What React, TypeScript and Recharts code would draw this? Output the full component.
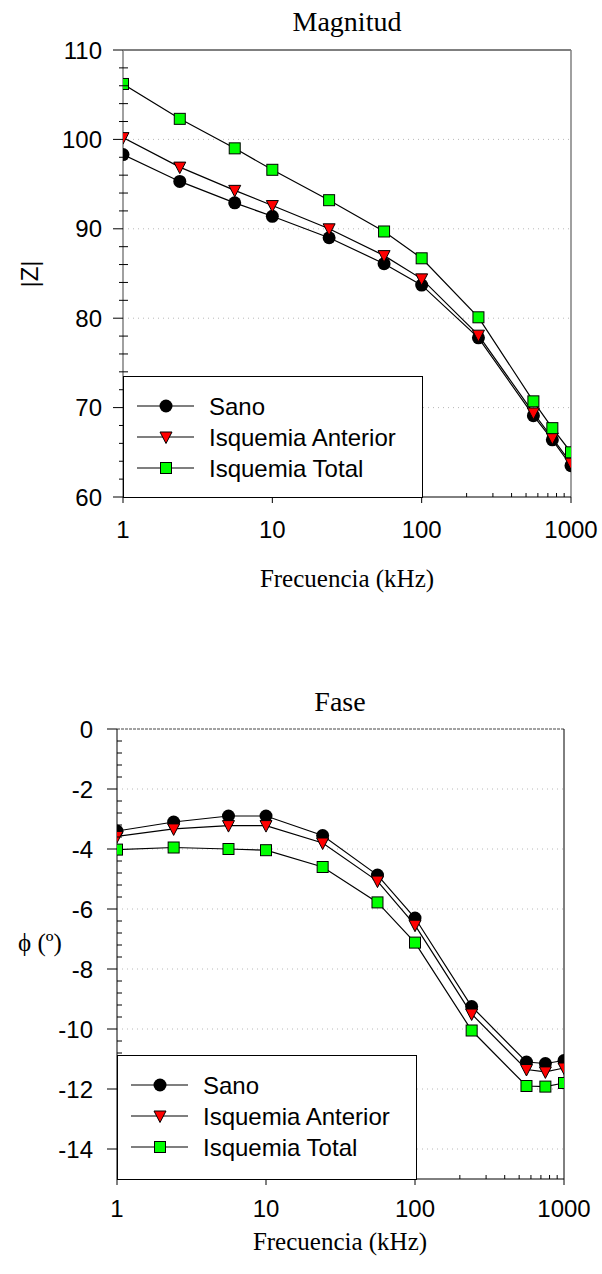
import { LineChart, Line, XAxis, YAxis, ReferenceLine } from "recharts";

// frequencies (kHz), shared by both panels
const freqs = [1, 2.4, 5.6, 10, 24, 56, 100, 240, 560, 750, 1000];

// |Z| panel
const zSano = [98.3, 95.3, 92.9, 91.4, 89.0, 86.1, 83.7, 77.8, 69.1, 66.4, 63.5];
const zAnterior = [100.2, 96.9, 94.3, 92.6, 90.0, 87.0, 84.4, 78.1, 69.4, 66.6, 63.8];
const zTotal = [106.2, 102.3, 99.0, 96.6, 93.2, 89.7, 86.7, 80.1, 70.7, 67.7, 65.0];

// phase panel
const pSano = [-3.4, -3.1, -2.9, -2.9, -3.55, -4.87, -6.3, -9.25, -11.1, -11.15, -11.05];
const pAnterior = [-3.58, -3.33, -3.22, -3.22, -3.8, -5.07, -6.54, -9.5, -11.35, -11.43, -11.3];
const pTotal = [-4.02, -3.95, -4.0, -4.04, -4.6, -5.78, -7.12, -10.05, -11.9, -11.92, -11.8];

const seriesNames = ["Sano", "Isquemia Anterior", "Isquemia Total"];

const xMajor = [1, 10, 100, 1000];
const xMinor = [2, 3, 4, 5, 6, 7, 8, 9, 20, 30, 40, 50, 60, 70, 80, 90, 200, 300, 400, 500, 600, 700, 800, 900];

const zMajor = [60, 70, 80, 90, 100, 110];
const zMinor = [62, 64, 66, 68, 72, 74, 76, 78, 82, 84, 86, 88, 92, 94, 96, 98, 102, 104, 106, 108];
const zGrid = [70, 80, 90, 100];

const pMajor = [0, -2, -4, -6, -8, -10, -12, -14];
const pMinor = [
  -0.4, -0.8, -1.2, -1.6, -2.4, -2.8, -3.2, -3.6, -4.4, -4.8, -5.2, -5.6, -6.4, -6.8, -7.2, -7.6,
  -8.4, -8.8, -9.2, -9.6, -10.4, -10.8, -11.2, -11.6, -12.4, -12.8, -13.2, -13.6, -14.4, -14.8,
];
const pGrid = [-2, -4, -6, -8, -10, -12, -14];

const zData = freqs.map((f, i) => ({ f, sano: zSano[i], anterior: zAnterior[i], total: zTotal[i] }));
const pData = freqs.map((f, i) => ({ f, sano: pSano[i], anterior: pAnterior[i], total: pTotal[i] }));

const SANS = "'Liberation Sans', Arial, sans-serif";
const SERIF = "'Liberation Serif', 'Times New Roman', serif";

function marker(kind: number, cx: number, cy: number, key?: string) {
  if (kind === 0) return <circle key={key} cx={cx} cy={cy} r={6.5} fill="#000" />;
  if (kind === 1)
    return (
      <polygon
        key={key}
        points={`${cx - 6},${cy - 5} ${cx + 6},${cy - 5} ${cx},${cy + 6.5}`}
        fill="#ff0000"
        stroke="#000"
        strokeWidth={1}
      />
    );
  return <rect key={key} x={cx - 5.5} y={cy - 5.5} width={11} height={11} fill="#00ff00" stroke="#000" strokeWidth={1} />;
}

const dotFor = (kind: number) => (p: any) => marker(kind, p.cx, p.cy, `m${kind}-${p.index}`);

function XTick(props: any) {
  const { x, y, payload, labelDy } = props;
  const v = payload.value;
  const major = xMajor.includes(v);
  return (
    <g>
      {major ? (
        <line x1={x} x2={x} y1={y} y2={y + 6} stroke="#000" />
      ) : (
        <line x1={x} x2={x} y1={y} y2={y - 4} stroke="#000" />
      )}
      {major && (
        <text x={x} y={y + labelDy} textAnchor="middle" fontFamily={SANS} fontSize={24} fill="#000">
          {v}
        </text>
      )}
    </g>
  );
}

function YTick(props: any) {
  const { x, y, payload, majors, gap, minorOut } = props;
  const v = payload.value;
  const major = majors.includes(v);
  return (
    <g>
      {major ? (
        <line x1={x - 10} x2={x} y1={y} y2={y} stroke="#000" />
      ) : (
        <line x1={x - minorOut} x2={x + 5} y1={y} y2={y} stroke="#000" />
      )}
      {major && (
        <text x={x - gap} y={y} dy="0.36em" textAnchor="end" fontFamily={SANS} fontSize={24} fill="#000">
          {v}
        </text>
      )}
    </g>
  );
}

function LegendBox({ left, top, width, height }: { left: number; top: number; width: number; height: number }) {
  return (
    <div
      style={{
        position: "absolute",
        left,
        top,
        width,
        height,
        background: "#fff",
        border: "1px solid #000",
        boxSizing: "border-box",
      }}
    >
      <svg width={width - 2} height={height - 2} style={{ display: "block" }}>
        {seriesNames.map((name, i) => {
          const y = 29 + i * 31;
          return (
            <g key={name}>
              <line x1={13} x2={70} y1={y} y2={y} stroke="#000" strokeWidth={1.2} />
              {marker(i, 42, y)}
              <text x={85} y={y} dy="0.36em" fontFamily={SANS} fontSize={24} fill="#000">
                {name}
              </text>
            </g>
          );
        })}
      </svg>
    </div>
  );
}

function seriesLines() {
  return ["sano", "anterior", "total"].map((k, i) => (
    <Line
      key={k}
      dataKey={k}
      type="linear"
      stroke="#000"
      strokeWidth={1.2}
      dot={dotFor(i)}
      activeDot={false}
      isAnimationActive={false}
    />
  ));
}

export default function App() {
  return (
    <div style={{ position: "absolute", left: 0, top: 0, width: 602, height: 1274, background: "#fff" }}>
      {/* Magnitud */}
      <div style={{ position: "absolute", left: 0, top: 0 }}>
        <LineChart width={602} height={620} data={zData} margin={{ top: 50, right: 31, left: 0, bottom: 0 }}>
          <XAxis
            dataKey="f"
            type="number"
            scale="log"
            domain={[1, 1000]}
            allowDataOverflow
            ticks={[...xMajor, ...xMinor]}
            interval={0}
            tickSize={0}
            tickMargin={0}
            tickLine={false}
            axisLine={{ stroke: "#000" }}
            tick={(p: any) => <XTick {...p} labelDy={41} />}
            height={123}
          />
          <YAxis
            type="number"
            domain={[60, 110]}
            allowDataOverflow
            ticks={[...zMajor, ...zMinor]}
            interval={0}
            tickSize={0}
            tickMargin={0}
            tickLine={false}
            axisLine={{ stroke: "#808080", strokeWidth: 1.5 }}
            tick={(p: any) => <YTick {...p} majors={zMajor} gap={21} minorOut={4} />}
            width={123}
          />
          {zGrid.map((g) => (
            <ReferenceLine key={g} y={g} stroke="#b8b8b8" strokeDasharray="1 4" />
          ))}
          <ReferenceLine y={110} stroke="#000" />
          <ReferenceLine x={1000} stroke="#808080" strokeWidth={1.5} />
          {seriesLines()}
        </LineChart>
      </div>

      {/* Fase */}
      <div style={{ position: "absolute", left: 0, top: 640 }}>
        <LineChart width={602} height={640} data={pData} margin={{ top: 89, right: 38, left: 0, bottom: 0 }}>
          <XAxis
            dataKey="f"
            type="number"
            scale="log"
            domain={[1, 1000]}
            allowDataOverflow
            ticks={[...xMajor, ...xMinor]}
            interval={0}
            tickSize={0}
            tickMargin={0}
            tickLine={false}
            axisLine={{ stroke: "#000" }}
            tick={(p: any) => <XTick {...p} labelDy={38} />}
            height={101}
          />
          <YAxis
            type="number"
            domain={[-15, 0]}
            allowDataOverflow
            ticks={[...pMajor, ...pMinor]}
            interval={0}
            tickSize={0}
            tickMargin={0}
            tickLine={false}
            axisLine={{ stroke: "#000" }}
            tick={(p: any) => <YTick {...p} majors={pMajor} gap={24} minorOut={0} />}
            width={117}
          />
          {pGrid.map((g) => (
            <ReferenceLine key={g} y={g} stroke="#b8b8b8" strokeDasharray="1 4" />
          ))}
          <ReferenceLine y={0} stroke="#444" strokeDasharray="3 1" />
          <ReferenceLine x={1000} stroke="#000" />
          {seriesLines()}
        </LineChart>
      </div>

      <LegendBox left={123} top={376} width={300} height={122} />
      <LegendBox left={117} top={1055} width={300} height={125} />

      <svg
        width={602}
        height={1274}
        style={{ position: "absolute", left: 0, top: 0, pointerEvents: "none" }}
      >
        <text x={347} y={31} textAnchor="middle" fontFamily={SERIF} fontSize={28}>
          Magnitud
        </text>
        <text x={347} y={587} textAnchor="middle" fontFamily={SERIF} fontSize={25}>
          Frecuencia (kHz)
        </text>
        <text
          x={29}
          y={274}
          textAnchor="middle"
          dy="0.36em"
          fontFamily={SANS}
          fontSize={24}
          transform="rotate(-90 29 274)"
        >
          |Z|
        </text>

        <text x={340} y={711} textAnchor="middle" fontFamily={SERIF} fontSize={28}>
          Fase
        </text>
        <text x={340} y={1250} textAnchor="middle" fontFamily={SERIF} fontSize={25}>
          Frecuencia (kHz)
        </text>
        <text x={40} y={942} textAnchor="middle" dy="0.36em" fontFamily={SERIF} fontSize={25}>
          ϕ (º)
        </text>
      </svg>
    </div>
  );
}
